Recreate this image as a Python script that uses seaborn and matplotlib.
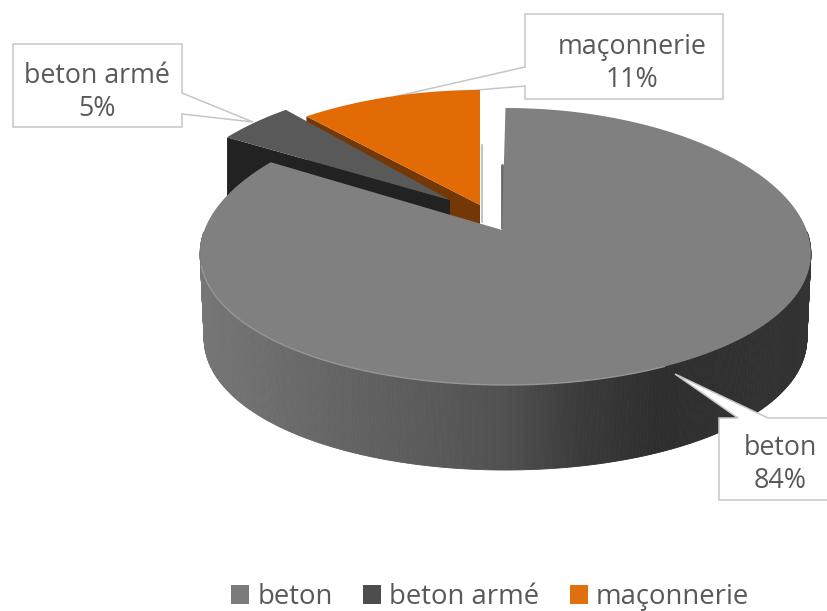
import numpy as np
import matplotlib
matplotlib.use("Agg")
import matplotlib.pyplot as plt
from matplotlib.patches import Polygon, Patch
from matplotlib.collections import PolyCollection
import seaborn as sns

# ---- data ----
categories = ["beton", "beton armé", "maçonnerie"]
values = [84, 5, 11]
labels_pct = ["84%", "5%", "11%"]

# ---- style ----
top_colors = ["#808080", "#595959", "#e26b05"]
side_colors = ["#4a4a4a", "#222222", "#733805"]
side_stops = ["#767676", "#6c6c6c", "#626262", "#5a5a5a", "#505050", "#3a3a3a", "#2e2e2e", "#303030", "#333333"]
text_color = "#595959"
box_edge = "#c6c6c6"

sns.set_theme(style="white")
plt.rcParams["font.family"] = ["Open Sans", "DejaVu Sans"]

W, H = 827, 611
fig = plt.figure(figsize=(W / 100, H / 100), dpi=100)
ax = fig.add_axes([0, 0, 1, 1])
ax.set_xlim(0, W)
ax.set_ylim(H, 0)
ax.axis("off")

# slice angles, clockwise from 12 o'clock
edges = 360 * np.cumsum([0] + values) / sum(values)


def rim(t_deg, apex, rx, ry, k=0.1, warp=0.0):
    t = np.radians(t_deg)
    t = t - np.radians(warp) * np.sin(2 * t)
    x = apex[0] + rx * np.sin(t) * (1 - k * np.cos(t))
    y = apex[1] - ry * np.cos(t)
    return np.column_stack([x, y])


def wedge(i, apex, rx, ry):
    t = np.linspace(edges[i], edges[i + 1], 240)
    return np.vstack([[apex], rim(t, apex, rx, ry)])


def callout(points, z=1):
    ax.add_patch(Polygon(points, closed=True, facecolor="white",
                         edgecolor=box_edge, lw=1.1, zorder=z))


# geometry of the exploded slices: apex, x radius, y radius, depth
geo = {
    1: ((450, 200), 279, 117, 85),
    2: ((480, 205), 295, 115, 85),
}
beton_apex = (502, 230)

# call-outs
callout([(525, 14), (723, 14), (723, 99), (525, 99), (525, 86), (393, 97), (525, 67)], z=1)
callout([(13, 44), (182, 44), (182, 93), (253, 122), (182, 114), (182, 127), (13, 127)], z=8)

# maçonnerie
apex, rx, ry, d = geo[2]
top = wedge(2, apex, rx, ry)
cut = np.array([top[1], top[0], top[0] + [0, d], top[1] + [0, d]])
ax.add_patch(Polygon(cut, closed=True, fc=side_colors[2], ec="none", zorder=2))
ax.add_patch(Polygon(top, closed=True, fc=top_colors[2], ec="none", zorder=3))
ax.plot([apex[0] + 1.5] * 2, [145, 222], color="#c4c4c4", lw=1.5, zorder=2)

# beton armé
apex, rx, ry, d = geo[1]
top = wedge(1, apex, rx, ry)
cut = np.array([top[1], top[0], top[0] + [0, d], top[1] + [0, d]])
ax.add_patch(Polygon(cut, closed=True, fc=side_colors[1], ec="none", zorder=4))
ax.add_patch(Polygon(top, closed=True, fc=top_colors[1], ec="none", zorder=5))

# beton: outer wall + top
cx, cy = 505.5, 246.5
rx, ry, d = 305, 138.5, 85
K, WARP = 0.05, 5.6
t = np.linspace(84, 276, 400)
upper = rim(t, (cx, cy), rx, ry, K)
lower = rim(t, (cx, cy + d), rx - 4, ry, K)
ramp = sns.blend_palette(side_stops, n_colors=256)
xn = (upper[:-1, 0] - upper[:, 0].min()) / np.ptp(upper[:, 0])
qc = [ramp[int(v * 255)] for v in xn]
quads = [[upper[i], upper[i + 1], lower[i + 1], lower[i]] for i in range(len(t) - 1)]
ax.add_collection(PolyCollection(quads, facecolors=qc, edgecolors=qc, linewidths=0.6, zorder=6))

t0 = np.linspace(edges[0], edges[1], 600)
arc = rim(t0, (cx, cy), rx, ry, K, WARP)
ax.plot([beton_apex[0]] * 2, [165, 228], color="#666666", lw=2, zorder=6.5)
ax.add_patch(Polygon(np.vstack([[beton_apex], arc]), closed=True,
                     fc=top_colors[0], ec="none", zorder=7))
front = rim(np.linspace(150, 262, 200), (cx, cy), rx, ry, K)
ax.plot(front[:, 0], front[:, 1], color="#969696", lw=1, zorder=7.5)

callout([(719, 418), (738, 418), (675, 374), (768, 418), (840, 418), (840, 500), (719, 500)], z=8)

# labels
font = 19.3
for xy, i in [((97, 92.5), 1), ((632, 63.5), 2), ((780, 464.5), 0)]:
    ax.text(xy[0], xy[1], f"{categories[i]}\n{labels_pct[i]}", ha="center", va="center", fontsize=font,
            color=text_color, linespacing=1.27, zorder=9)

# legend
handles = [Patch(facecolor=c, edgecolor="none", label=n)
           for c, n in zip(["#7a7a7a", "#4d4d4d", "#e0700f"], categories)]
ax.legend(handles=handles, ncol=3, loc="center", bbox_to_anchor=(490 / W, 1 - 597 / H),
          bbox_transform=ax.transAxes, frameon=False, fontsize=19.8, labelcolor=text_color,
          handlelength=0.66, handleheight=0.66, handletextpad=0.3, columnspacing=1.1)

fig.savefig("out.png", dpi=100, facecolor="white")
